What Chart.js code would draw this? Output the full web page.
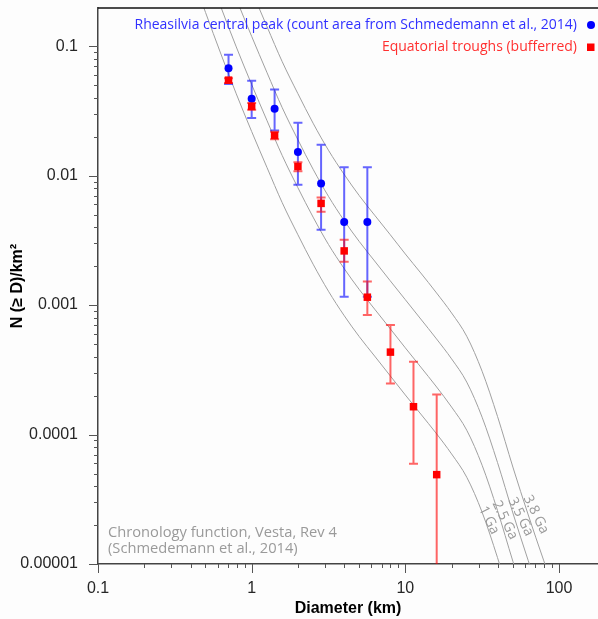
<!DOCTYPE html>
<html>
<head>
<meta charset="utf-8">
<title>Vesta crater SFD</title>
<script src="https://cdn.jsdelivr.net/npm/chart.js"></script>
<style>
  body { margin: 0; background: #fdfdfd; }
  #wrap { width: 598px; height: 619px; }
</style>
</head>
<body>
<div id="wrap"><canvas id="sfd" width="598" height="619"></canvas></div>
<script>
// bin diameters (km)
const diameters = [0.707, 1, 1.41, 2, 2.83, 4, 5.66, 8, 11.3, 16];

// Rheasilvia central peak, N(>=D) per km2 with error bounds
const peakN     = [0.0676, 0.0392, 0.0328, 0.0152, 0.00869, 0.00438, 0.00438];
const peakUpper = [0.0857, 0.054, 0.0462, 0.0256, 0.0173, 0.0116, 0.0116];
const peakLower = [0.051, 0.0279, 0.0223, 0.00849, 0.00381, 0.00116, 0.00116];

// Equatorial troughs
const troughN     = [0.0546, 0.0342, 0.0204, 0.01175, 0.0061, 0.00262, 0.00115, 0.000433, 0.000164, 0.000049];
const troughUpper = [0.0566, 0.0363, 0.0218, 0.0127, 0.00678, 0.00319, 0.00152, 0.000702, 0.000365, 0.000204];
const troughLower = [0.0518, 0.0322, 0.0191, 0.0108, 0.00525, 0.00216, 0.000838, 0.000248, 0.0000596, 0.0000001];

// isochrons (Vesta chronology function)
const isoD    = [0.398, 0.501, 0.631, 0.794, 1, 1.26, 1.58, 2.0, 2.51, 3.16, 3.98, 5.01, 6.31, 7.94, 10, 12.6, 15.8, 20.0, 25.1, 31.6, 39.8, 50.1, 63.1, 79.4, 100];
const iso1Ga  = [0.389, 0.182, 0.0869, 0.0428, 0.0219, 0.0115, 0.00618, 0.00349, 0.00207, 0.00128, 0.000836, 0.000571, 0.000404, 0.000286, 0.000202, 0.000144, 0.000103, 7.08e-5, 4.68e-5, 2.51e-5, 1.12e-5, 4.57e-6, 1.95e-6, 8.7e-7, 3.98e-7];
const iso25Ga = [0.897, 0.421, 0.200, 0.0986, 0.0505, 0.0265, 0.0143, 0.00805, 0.00478, 0.00294, 0.00193, 0.00132, 0.000931, 0.000661, 0.000467, 0.000332, 0.000237, 0.000163, 0.000108, 5.79e-5, 2.59e-5, 1.05e-5, 4.50e-6, 2.01e-6, 9.18e-7];
const iso35Ga = [2.11, 0.989, 0.471, 0.232, 0.119, 0.0622, 0.0335, 0.0189, 0.0112, 0.00692, 0.00453, 0.00310, 0.00219, 0.00155, 0.00110, 0.000780, 0.000556, 0.000384, 0.000254, 0.000136, 6.08e-5, 2.48e-5, 1.06e-5, 4.72e-6, 2.16e-6];
const iso38Ga = [4.78, 2.24, 1.07, 0.525, 0.269, 0.141, 0.0759, 0.0429, 0.0254, 0.0157, 0.0103, 0.00701, 0.00495, 0.00352, 0.00248, 0.00177, 0.00126, 0.000869, 0.000574, 0.000308, 0.000138, 5.61e-5, 2.39e-5, 1.07e-5, 4.89e-6];
const isoNames  = ['1 Ga', '2.5 Ga', '3.5 Ga', '3.8 Ga'];
const isoLabelD = [35.0, 44.5, 56.3, 70.8];
const isoLabelN = [2.18e-5, 2.18e-5, 2.32e-5, 2.41e-5];

const xTickValues = [0.1, 1, 10, 100];
const xTickLabels = ['0.1', '1', '10', '100'];
const yTickValues = [0.1, 0.01, 0.001, 0.0001, 0.00001];
const yTickLabels = ['0.1', '0.01', '0.001', '0.0001', '0.00001'];

const seriesNames = ['Rheasilvia central peak (count area from Schmedemann et al., 2014)', 'Equatorial troughs (bufferred)'];
const noteLines = ['Chronology function, Vesta, Rev 4', '(Schmedemann et al., 2014)'];

const BLUE = '#0000ff';
const RED = '#ff0000';
const CURVE = '#a0a0a0';
const NOTE = '#9a9a9a';

function pts(xs, ys) { return ys.map((v, i) => ({x: xs[i], y: v})); }

function tickLabel(value, values, labels) {
  const i = values.findIndex(v => Math.abs(value / v - 1) < 1e-6);
  return i < 0 ? '' : labels[i];
}

// keep the plot box fixed: no extra room for overhanging tick labels
function fixBox(scale, size) {
  if (scale.isHorizontal()) scale.height = size; else scale.width = size;
  scale.paddingLeft = scale.paddingRight = scale.paddingTop = scale.paddingBottom = 0;
}

const isoSets = [iso1Ga, iso25Ga, iso35Ga, iso38Ga].map((vals, k) => ({
  label: isoNames[k],
  data: pts(isoD, vals),
  showLine: true,
  borderColor: CURVE,
  borderWidth: 1,
  pointRadius: 0,
  cubicInterpolationMode: 'monotone',
  order: 2
}));

// draws the error bars just before the points of their dataset
const errorBars = {
  id: 'errorBars',
  beforeDatasetDraw(chart, args) {
    const ds = chart.data.datasets[args.index];
    if (!ds.errUpper) return;
    const {ctx, chartArea: a, scales: {x, y}} = chart;
    ctx.save();
    ctx.beginPath();
    ctx.rect(a.left, a.top, a.right - a.left, a.bottom - a.top);
    ctx.clip();
    ctx.strokeStyle = ds.errColor;
    ctx.lineWidth = 2;
    ds.data.forEach((p, i) => {
      const px = x.getPixelForValue(p.x);
      const top = y.getPixelForValue(ds.errUpper[i]);
      const bot = y.getPixelForValue(ds.errLower[i]);
      ctx.beginPath();
      ctx.moveTo(px, top); ctx.lineTo(px, bot);
      ctx.moveTo(px - 4.5, top); ctx.lineTo(px + 4.5, top);
      ctx.moveTo(px - 4.5, bot); ctx.lineTo(px + 4.5, bot);
      ctx.stroke();
    });
    ctx.restore();
  }
};

// ticks, frame, legend and the text notes
const decorations = {
  id: 'decorations',
  afterDraw(chart) {
    const {ctx, chartArea: a, scales: {x, y}} = chart;
    ctx.save();

    // top frame line
    ctx.strokeStyle = '#111';
    ctx.lineWidth = 1.5;
    ctx.beginPath();
    ctx.moveTo(a.left, a.top); ctx.lineTo(a.right, a.top);
    ctx.stroke();

    // log ticks
    ctx.strokeStyle = '#555';
    ctx.lineWidth = 1;
    ctx.beginPath();
    xTickValues.forEach(d => {
      for (let m = 1; m <= 9; m++) {
        const px = x.getPixelForValue(d * m);
        if (px < a.left - 0.5 || px > a.right + 0.5) continue;
        ctx.moveTo(Math.round(px) + 0.5, a.bottom);
        ctx.lineTo(Math.round(px) + 0.5, a.bottom + (m === 1 ? 9 : 4));
      }
    });
    yTickValues.forEach(d => {
      for (let m = 1; m <= 9; m++) {
        const py = y.getPixelForValue(d * m);
        if (py < a.top - 0.5 || py > a.bottom + 0.5) continue;
        ctx.moveTo(a.left, Math.round(py) + 0.5);
        ctx.lineTo(a.left - (m === 1 ? 9 : 4), Math.round(py) + 0.5);
      }
    });
    ctx.stroke();

    // legend, text right aligned with the marker on its right
    ctx.font = '14px "Open Sans"';
    ctx.textAlign = 'right';
    ctx.textBaseline = 'middle';
    const lx = a.right - 21;
    ctx.fillStyle = '#3030ff';
    ctx.fillText(seriesNames[0], lx, a.top + 17);
    ctx.fillStyle = BLUE;
    ctx.beginPath();
    ctx.arc(a.right - 7, a.top + 17, 4, 0, Math.PI * 2);
    ctx.fill();
    ctx.fillStyle = '#ff3030';
    ctx.fillText(seriesNames[1], lx, a.top + 39);
    ctx.fillStyle = RED;
    ctx.fillRect(a.right - 11, a.top + 35.5, 7.5, 7.5);

    // chronology note
    ctx.font = '14.7px "Open Sans"';
    ctx.textAlign = 'left';
    ctx.fillStyle = NOTE;
    ctx.fillText(noteLines[0], a.left + 10, a.bottom - 31);
    ctx.fillText(noteLines[1], a.left + 10, a.bottom - 15);

    // isochron labels along the curves
    ctx.font = '14px "Open Sans"';
    ctx.textAlign = 'center';
    isoNames.forEach((name, k) => {
      ctx.save();
      ctx.translate(x.getPixelForValue(isoLabelD[k]), y.getPixelForValue(isoLabelN[k]));
      ctx.rotate(64 * Math.PI / 180);
      ctx.fillText(name, 0, 0);
      ctx.restore();
    });

    ctx.restore();
  }
};

new Chart(document.getElementById('sfd'), {
  type: 'scatter',
  data: {
    datasets: [
      {
        label: seriesNames[1],
        data: pts(diameters, troughN),
        errUpper: troughUpper,
        errLower: troughLower,
        errColor: 'rgba(255, 0, 0, 0.6)',
        pointStyle: 'rect',
        pointRadius: 5.3,
        pointBackgroundColor: RED,
        pointBorderWidth: 0,
        order: 0
      },
      {
        label: seriesNames[0],
        data: pts(diameters, peakN),
        errUpper: peakUpper,
        errLower: peakLower,
        errColor: 'rgba(0, 0, 255, 0.6)',
        pointStyle: 'circle',
        pointRadius: 4,
        pointBackgroundColor: BLUE,
        pointBorderWidth: 0,
        order: 1
      },
      ...isoSets
    ]
  },
  options: {
    responsive: false,
    animation: false,
    devicePixelRatio: 1,
    layout: { autoPadding: false, padding: { top: 8, right: 0, left: 0, bottom: 0 } },
    plugins: {
      legend: { display: false },
      tooltip: { enabled: false }
    },
    scales: {
      x: {
        type: 'logarithmic',
        min: 0.1,
        max: 179.4,
        grid: { display: false, drawTicks: false },
        border: { display: true, color: '#444', width: 1.5 },
        ticks: {
          autoSkip: false,
          maxRotation: 0,
          padding: 15,
          color: '#262626',
          font: { family: '"Liberation Sans", Arial', size: 16 },
          callback: v => tickLabel(v, xTickValues, xTickLabels)
        },
        title: {
          display: true,
          text: 'Diameter (km)',
          color: '#000',
          font: { family: '"Liberation Sans", Arial', size: 16, weight: 'bold' },
          padding: { top: 0, bottom: 1 }
        },
        afterFit(scale) { fixBox(scale, 55); }
      },
      y: {
        type: 'logarithmic',
        min: 0.00001,
        max: 0.197,
        grid: { display: false, drawTicks: false },
        border: { display: true, color: '#444', width: 1.5 },
        ticks: {
          autoSkip: false,
          padding: 20,
          color: '#262626',
          font: { family: '"Liberation Sans", Arial', size: 16 },
          callback: v => tickLabel(v, yTickValues, yTickLabels)
        },
        title: {
          display: true,
          text: 'N (≥ D)/km²',
          color: '#000',
          font: { family: '"Liberation Sans", Arial', size: 16, weight: 'bold' },
          padding: { top: 8, bottom: 0 }
        },
        afterFit(scale) { fixBox(scale, 98); }
      }
    }
  },
  plugins: [errorBars, decorations]
});
</script>
</body>
</html>
